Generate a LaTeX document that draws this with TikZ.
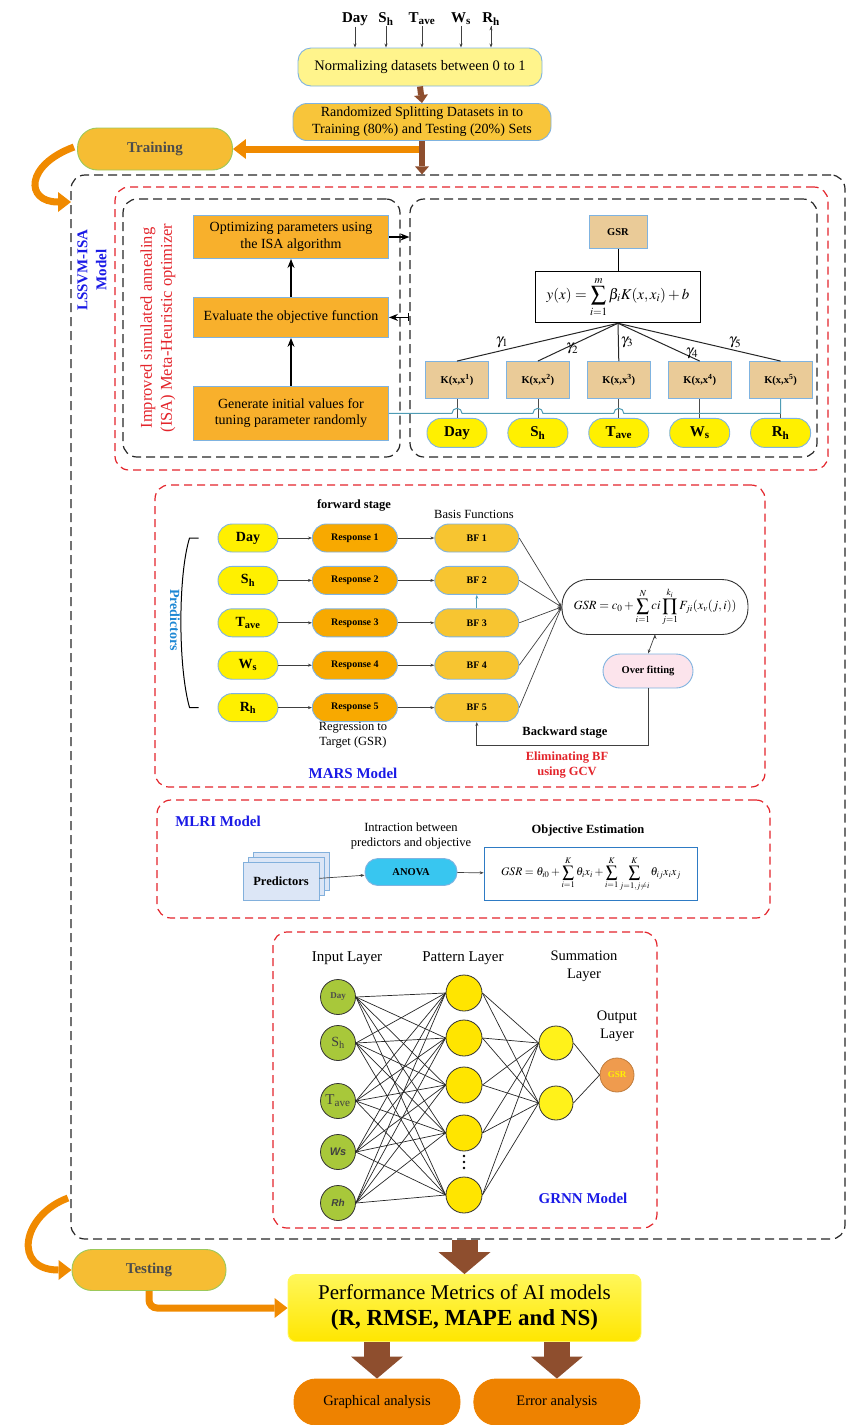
\documentclass[tikz,border=0pt]{standalone}
\usepackage{mathptmx}
\usepackage[no-math]{fontspec}
\setmainfont{Liberation Serif}
\setsansfont{Liberation Sans}
\usetikzlibrary{arrows.meta,positioning,calc,shadows}

\definecolor{lblue}{HTML}{7FB3E0}
\definecolor{normy}{HTML}{FFF48C}
\definecolor{splity}{HTML}{F8C53A}
\definecolor{trainy}{HTML}{F6BD33}
\definecolor{tgreen}{HTML}{9CC85A}
\definecolor{isaor}{HTML}{F8B02C}
\definecolor{tanf}{HTML}{EACB98}
\definecolor{yel}{HTML}{FFF000}
\definecolor{resp}{HTML}{F8A900}
\definecolor{bfy}{HTML}{F7C531}
\definecolor{pinkf}{HTML}{FCE4EC}
\definecolor{docb}{HTML}{DCE6F6}
\definecolor{anov}{HTML}{38C6F0}
\definecolor{fblue}{HTML}{2E7BC4}
\definecolor{ingreen}{HTML}{A8C83A}
\definecolor{patt}{HTML}{FFE500}
\definecolor{summ}{HTML}{FFF21A}
\definecolor{outor}{HTML}{EF9B4E}
\definecolor{reddash}{HTML}{E3242B}
\definecolor{mblue}{HTML}{1A1AE6}
\definecolor{pblue}{HTML}{1E88D4}
\definecolor{brownar}{HTML}{8E4E2E}
\definecolor{orarrow}{HTML}{F08A00}
\definecolor{perftop}{HTML}{FFF75A}
\definecolor{perfbot}{HTML}{FFE600}
\definecolor{anor}{HTML}{EE8200}
\definecolor{teall}{HTML}{4F9CB5}

\newcommand{\fsz}[2]{\fontsize{#1}{#2}\selectfont}

\tikzset{
  lbox/.style={draw=lblue, line width=0.9pt, align=center, inner sep=0pt},
  redbox/.style={draw=reddash, line width=1.2pt, dash pattern=on 8pt off 5pt, rounded corners=14pt},
  blackbox/.style={draw=black!85, line width=1.2pt, dash pattern=on 9pt off 5pt, rounded corners=14pt},
  brar/.style={draw=brownar, line width=6pt, -{Triangle[length=8pt,width=14pt,line width=0pt]}},
  bigbrar/.style={draw=brownar, line width=26pt, -{Triangle[length=22pt,width=52pt,line width=0pt]}},
  orar/.style={draw=orarrow, line width=7pt, -{Triangle[length=13pt,width=20pt,line width=0pt]}},
  thinarr/.style={draw=black!75, line width=0.7pt, -{Stealth[length=4pt,width=3pt]}}
}

\begin{document}
\begin{tikzpicture}[x=1pt,y=-1pt,
  toplab/.style={font=\bfseries\fsz{15}{17}, inner sep=1pt},
  inoval/.style={lbox, fill=yel, rounded corners=14pt, minimum width=60, minimum height=29, font=\bfseries\fsz{15}{17}},
  kbox/.style={lbox, fill=tanf, minimum width=63, minimum height=37, font=\bfseries\fsz{10.5}{12}},
  isabox/.style={lbox, fill=isaor, minimum width=195, font=\fsz{14}{16.5}},
  mvar/.style={lbox, fill=yel, rounded corners=14pt, minimum width=60, minimum height=28, font=\bfseries\fsz{14}{16}},
  respoval/.style={lbox, fill=resp, rounded corners=14pt, minimum width=85, minimum height=28, font=\bfseries\fsz{10}{12}},
  bfoval/.style={lbox, fill=bfy, rounded corners=14pt, minimum width=84, minimum height=28, font=\bfseries\fsz{10}{12}},
  neuron/.style={circle, draw=black!80, line width=0.8pt, minimum size=35, inner sep=0pt},
  net/.style={draw=black!85, line width=0.7pt},
  gam/.style={font=\fsz{15}{17}, inner sep=2pt},
  mtitle/.style={font=\bfseries\fsz{15}{19}, text=mblue, align=center},
  isaarrow/.style={line width=1.2pt, -{Stealth[length=9pt,width=7pt]}}]
\useasboundingbox (0,0) rectangle (848,1425);

%data preparation
\node (tday) [toplab] at (355,19) {Day};
\node (tsh) [toplab] at (386,19) {S\textsubscript{h}};
\node (ttave) [toplab] at (422,19) {T\textsubscript{ave}};
\node (tws) [toplab] at (461,19) {W\textsubscript{s}};
\node (trh) [toplab] at (491,19) {R\textsubscript{h}};
\node (norm) [lbox, fill=normy, rounded corners=13pt, minimum width=244, minimum height=38, font=\fsz{14.5}{17}] at (420,67) {Normalizing datasets between 0 to 1};
\node (split) [lbox, fill=splity, rounded corners=14pt, minimum width=258, minimum height=37, font=\fsz{14}{17}] at (422,122) {Randomized Splitting Datasets in to\\Training (80\%) and Testing (20\%) Sets};
\node (train) [lbox, draw=tgreen, fill=trainy, rounded corners=20pt, minimum width=155, minimum height=42, font=\bfseries\fsz{15}{17}, text=black!70] at (155,149) {Training};
\node (lssvm) [blackbox, minimum width=774, minimum height=1064] at (458,707) {};
\coordinate (tcurve) at (74,147);
\coordinate (tcurveend) at (71,202);

\path[thinarr]
(tday.south) edge (tday.south |- norm.north)
(tsh.south) edge (tsh.south |- norm.north)
(ttave.south) edge (ttave.south |- norm.north)
(tws.south) edge (tws.south |- norm.north)
(trh.south) edge (trh.south |- norm.north);
\draw[brar] (norm.south) -- (split.north);
\draw[orar] (split.south |- train.east) -- (train.east);
\draw[brar] (split.south) -- (split.south |- lssvm.north);
\draw[orar] (tcurve) .. controls (25,165) and (25,202) .. (tcurveend);

%LSSVM-ISA
\node (lstitle) [mtitle, rotate=90] at (92,270) {LSSVM-ISA\\Model};
\node (isared) [redbox, minimum width=713, minimum height=283] at (471.5,328.5) {};
\node (lpanel) [blackbox, minimum width=277, minimum height=258] at (261.5,328) {};
\node (rpanel) [blackbox, minimum width=407, minimum height=258] at (613.5,328) {};
\node (isatitle) [rotate=90, text=reddash, font=\fsz{16.5}{20}, align=center] at (158,328) {Improved simulated annealing\\(ISA) Meta-Heuristic optimizer};
\node (opt) [isabox, minimum height=43] at (291,237) {Optimizing parameters using\\the ISA algorithm};
\node (eval) [isabox, minimum height=40, below=38pt of opt] {Evaluate the objective function};
\node (gen) [isabox, minimum height=54, below=48pt of eval] {Generate initial values for\\tuning parameter randomly};

\node (gsr) [kbox, minimum width=58, minimum height=33] at (618,232) {GSR};
\node (yform) [draw, line width=1.5pt, fill=white, minimum width=165, minimum height=51, inner sep=0pt, font=\fsz{15}{17}] at (618,297) {$y(x)=\displaystyle\sum_{i=1}^{m}\beta_i K(x,x_i)+b$};
\node (k1) [kbox] at (457,380) {K(x,x\textsuperscript{1})};
\node (k2) [kbox, right=17pt of k1] {K(x,x\textsuperscript{2})};
\node (k3) [kbox, right=17pt of k2] {K(x,x\textsuperscript{3})};
\node (k4) [kbox, right=17pt of k3] {K(x,x\textsuperscript{4})};
\node (k5) [kbox, right=17pt of k4] {K(x,x\textsuperscript{5})};
\node (lday) [inoval, below=19pt of k1] {Day};
\node (lsh) [inoval, below=19pt of k2] {S\textsubscript{h}};
\node (ltave) [inoval, below=19pt of k3] {T\textsubscript{ave}};
\node (lws) [inoval, below=19pt of k4] {W\textsubscript{s}};
\node (lrh) [inoval, below=19pt of k5] {R\textsubscript{h}};

\path[isaarrow] (gen) edge (eval) (eval) edge (opt);
\draw[isaarrow] (opt.east) -- (opt.east -| rpanel.west);
\draw[line width=1.2pt, {Bar[width=8pt]}-{Stealth[length=9pt,width=7pt]}] (eval.east -| rpanel.west) -- (eval.east);
\draw[line width=1pt] (gsr) -- (yform);
\path[draw=black!85, line width=1pt]
(yform.south) edge node[gam, above, pos=0.72] {$\gamma_1$} (k1.north)
(yform.south) edge node[gam, right, pos=0.68] {$\gamma_2$} (k2.north)
(yform.south) edge node[gam, right, pos=0.5] {$\gamma_3$} (k3.north)
(yform.south) edge node[gam, right, pos=0.8] {$\gamma_4$} (k4.north)
(yform.south) edge node[gam, above, pos=0.72] {$\gamma_5$} (k5.north);
\path[draw=black!70, line width=0.8pt]
(lday) edge (k1) (lsh) edge (k2) (ltave) edge (k3) (lws) edge (k4) (lrh) edge (k5);
\draw[teall, line width=1pt] (gen.east) -- ($(k1.south |- gen.east)+(-5pt,0)$) arc[start angle=180, end angle=0, radius=5pt]
  -- ($(k2.south |- gen.east)+(-5pt,0)$) arc[start angle=180, end angle=0, radius=5pt]
  -- ($(k3.south |- gen.east)+(-5pt,0)$) arc[start angle=180, end angle=0, radius=5pt]
  -- (k5.south |- gen.east) -- (k5.south);

%MARS
\node (marsred) [redbox, minimum width=610, minimum height=302] at (460,636) {};
\node (fwd) [font=\bfseries\fsz{12.5}{14}] at (354,505) {forward stage};
\node (basis) [font=\fsz{12.5}{14}] at (474,514) {Basis Functions};
\node (mday) [mvar] at (248,538) {Day};
\node (msh) [mvar, below=13.5pt of mday] {S\textsubscript{h}};
\node (mtave) [mvar, below=13.5pt of msh] {T\textsubscript{ave}};
\node (mws) [mvar, below=13.5pt of mtave] {W\textsubscript{s}};
\node (mrh) [mvar, below=13.5pt of mws] {R\textsubscript{h}};
\node (resp1) [respoval, right=33.5pt of mday] {Response 1};
\node (resp2) [respoval, right=33.5pt of msh] {Response 2};
\node (resp3) [respoval, right=33.5pt of mtave] {Response 3};
\node (resp4) [respoval, right=33.5pt of mws] {Response 4};
\node (resp5) [respoval, right=33.5pt of mrh] {Response 5};
\node (bf1) [bfoval, right=36.5pt of resp1] {BF 1};
\node (bf2) [bfoval, right=36.5pt of resp2] {BF 2};
\node (bf3) [bfoval, right=36.5pt of resp3] {BF 3};
\node (bf4) [bfoval, right=36.5pt of resp4] {BF 4};
\node (bf5) [bfoval, right=36.5pt of resp5] {BF 5};
\node (gsrform) [lbox, draw=black!80, fill=white, rounded corners=26pt, minimum width=186, minimum height=55, font=\fsz{12.5}{15}] at (655,607) {$GSR=c_0+\displaystyle\sum_{i=1}^{N}ci\prod_{j=1}^{k_i}F_{ji}(x_v(j,i))$};
\node (over) [lbox, fill=pinkf, rounded corners=17pt, minimum width=90, minimum height=34, font=\bfseries\fsz{10.5}{12}] at (648,671) {Over fitting};
\node (back) [font=\bfseries\fsz{12.5}{14}] at (565,733) {Backward stage};
\node (elim) [text=reddash, font=\bfseries\fsz{12.5}{15}, align=center] at (567,765) {Eliminating BF\\using GCV};
\node (regr) [font=\fsz{12.5}{15}, align=center] at (353,735) {Regression to\\Target (GSR)};
\node (marstitle) [mtitle] at (353,773) {MARS Model};
\node (predtitle) [rotate=-90, text=pblue, font=\bfseries\fsz{14}{16}] at (175,620) {Predictors};

\path[thinarr]
(mday) edge (resp1) (msh) edge (resp2) (mtave) edge (resp3) (mws) edge (resp4) (mrh) edge (resp5)
(resp1) edge (bf1) (resp2) edge (bf2) (resp3) edge (bf3) (resp4) edge (bf4) (resp5) edge (bf5)
(bf1.east) edge (gsrform.west) (bf2.east) edge (gsrform.west) (bf3.east) edge (gsrform.west)
(bf4.east) edge (gsrform.west) (bf5.east) edge (gsrform.west)
(gsrform.south) edge (over.north);
\draw[thinarr, draw=teall] (bf3) -- (bf2);
\draw[thinarr, line width=0.9pt] (over.south) -- ++(0,57) -| (bf5.south);
\draw[line width=1pt] ([xshift=-19pt]mday.west) -- ++(-9pt,0) .. controls (178,575) and (178,667) .. ([xshift=-28pt]mrh.west) -- ([xshift=-19pt]mrh.west);

%MLRI
\node (mlrired) [redbox, minimum width=613, minimum height=118] at (463.5,859) {};
\node (mlrititle) [mtitle] at (218,821) {MLRI Model};
\node (preds) [lbox, draw=fblue!60, fill=docb, minimum width=76, minimum height=38, font=\bfseries\fsz{12.5}{14}, double copy shadow={shadow xshift=5pt, shadow yshift=5pt, draw=fblue!60, fill=docb}] at (281,881) {Predictors};
\node (anova) [lbox, fill=anov, rounded corners=13pt, minimum width=92, minimum height=27, font=\bfseries\fsz{10.5}{12}] at (411,872) {ANOVA};
\node (inter) [font=\fsz{12.5}{15}, align=center] at (411,836) {Intraction between\\predictors and objective};
\node (objest) [font=\bfseries\fsz{12.5}{14}] at (588,830) {Objective Estimation};
\node (mlriform) [draw=fblue, line width=1.6pt, fill=white, minimum width=213, minimum height=53, inner sep=0pt, font=\fsz{11.5}{13}] at (591,874) {$GSR=\theta_{i0}+\displaystyle\sum_{i=1}^{K}\theta_ix_i+\sum_{i=1}^{K}\sum_{j=1,j\neq i}^{K}\theta_{ij}x_ix_j$};
\path[thinarr] (preds) edge (anova) (anova) edge (mlriform);

%GRNN
\node (grnnred) [redbox, minimum width=384, minimum height=296] at (465,1080) {};
\node (inlay) [font=\fsz{15}{17}] at (347,958) {Input Layer};
\node (patlay) [font=\fsz{15}{17}] at (463,958) {Pattern Layer};
\node (sumlay) [font=\fsz{14.5}{18}, align=center] at (584,966) {Summation\\Layer};
\node (outlay) [font=\fsz{14.5}{18}, align=center] at (617,1026) {Output\\Layer};
\node (in1) [neuron, fill=ingreen, text=black!70, font=\bfseries\fsz{9}{10}] at (338,997) {Day};
\node (in2) [neuron, fill=ingreen, text=black!75, font=\fsz{14}{16}] at (338,1043) {S\textsubscript{h}};
\node (in3) [neuron, fill=ingreen, text=black!75, font=\fsz{15}{17}] at (338,1101) {T\textsubscript{ave}};
\node (in4) [neuron, fill=ingreen, text=black!75, font=\sffamily\bfseries\itshape\fsz{11}{12}] at (338,1152) {Ws};
\node (in5) [neuron, fill=ingreen, text=black!75, font=\sffamily\bfseries\itshape\fsz{10}{12}] at (338,1203) {Rh};
\node (p1) [neuron, fill=patt, minimum size=36] at (464,993) {};
\node (p2) [neuron, fill=patt, minimum size=36] at (464,1038) {};
\node (p3) [neuron, fill=patt, minimum size=36] at (464,1085) {};
\node (p4) [neuron, fill=patt, minimum size=36] at (464,1133) {};
\node (p5) [neuron, fill=patt, minimum size=36] at (464,1195) {};
\node (s1) [neuron, fill=summ, minimum size=34] at (556,1043) {};
\node (s2) [neuron, fill=summ, minimum size=34] at (556,1103) {};
\node (gout) [neuron, draw=outor!80!black, fill=outor, minimum size=34, text=yellow, font=\bfseries\fsz{9}{10}] at (617,1075) {GSR};
\node (grnntitle) [mtitle] at (583,1198) {GRNN Model};

\foreach \i in {1,...,5}{
  \foreach \j in {1,...,5}{\draw[net] (in\i.east) -- (p\j.west);}
  \draw[net] (p\i.east) -- (s1.west);
  \draw[net] (p\i.east) -- (s2.west);
}
\path[net] (s1.east) edge (gout.west) (s2.east) edge (gout.west);
\foreach \y in {1156,1162,1168} \fill (464,\y) circle (1.4pt);

%testing and metrics
\coordinate (bcurve) at (68,1198);
\node (test) [lbox, draw=tgreen, fill=trainy, rounded corners=20pt, minimum width=154, minimum height=41, font=\bfseries\fsz{15}{17}, text=black!70] at (149,1270) {Testing};
\node (perf) [lbox, draw=perftop, top color=perftop, bottom color=perfbot, rounded corners=8pt, minimum width=353, minimum height=67, font=\fsz{21}{26}] at (464.5,1308) {Performance Metrics of AI models\\{\bfseries\fsz{23}{26}(R, RMSE, MAPE and NS)}};
\node (graph) [lbox, draw=anor, fill=anor, rounded corners=22pt, minimum width=166, minimum height=46, font=\fsz{14.5}{17}] at (377,1402) {Graphical analysis};
\node (err) [lbox, draw=anor, fill=anor, rounded corners=22pt, minimum width=166, minimum height=46, font=\fsz{14.5}{17}, right=13pt of graph] {Error analysis};

\draw[orar] (bcurve) .. controls (22,1215) and (12,1270) .. (test.west);
\draw[orar, rounded corners=8pt] (test.south) |- (perf.west);
\draw[bigbrar] (perf.north |- lssvm.south) -- (perf.north);
\draw[bigbrar] (perf.south -| graph.north) -- (graph.north);
\draw[bigbrar] (perf.south -| err.north) -- (err.north);
\end{tikzpicture}
\end{document}
